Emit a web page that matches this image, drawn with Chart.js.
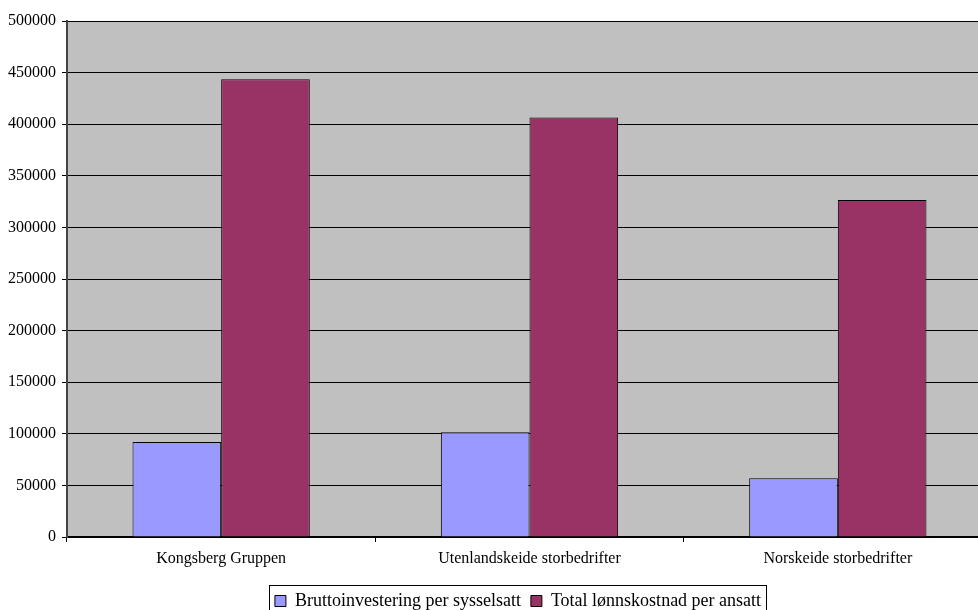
<!DOCTYPE html>
<html>
<head>
<meta charset="utf-8">
<script src="https://cdn.jsdelivr.net/npm/chart.js@4"></script>
<style>
  html, body { margin: 0; padding: 0; background: #fff; overflow: hidden; width: 978px; height: 610px; }
  #wrap { position: absolute; left: 0; top: 0; width: 1000px; height: 630px; }
</style>
</head>
<body>
<div id="wrap"><canvas id="chart" width="1000" height="630"></canvas></div>
<script>
const categories = ['Kongsberg Gruppen', 'Utenlandskeide storbedrifter', 'Norskeide storbedrifter']
const seriesNames = ['Bruttoinvestering per sysselsatt', 'Total lønnskostnad per ansatt']
const investering = [92000, 101500, 57000]
const lonnskostnad = [443500, 406500, 326500]
const yMin = 0
const yMax = 500000
const yStep = 50000

const FONT = 'Liberation Serif, Times New Roman, serif'
const LEGEND_SHIFT = 22

// grey plot background like the old Excel chart
const plotBg = {
    id: 'plotBg',
    beforeDraw(chart) {
        const { ctx, chartArea: a } = chart
        ctx.save()
        ctx.fillStyle = '#C0C0C0'
        ctx.fillRect(a.left, a.top, a.right - a.left, a.bottom - a.top)
        ctx.restore()
    }
}

// the plot runs past the window on the right, so centre the legend on the visible part
const legendShift = {
    id: 'legendShift',
    afterLayout(chart) {
        const lg = chart.legend
        if (!lg) return
        lg.left += LEGEND_SHIFT
        lg.right += LEGEND_SHIFT
        lg.legendHitBoxes.forEach(b => { b.left += LEGEND_SHIFT })
    }
}

// frame around the legend items
const legendFrame = {
    id: 'legendFrame',
    afterDraw(chart) {
        const boxes = chart.legend && chart.legend.legendHitBoxes
        if (!boxes || !boxes.length) return
        const left = Math.min(...boxes.map(b => b.left)) - 6
        const right = Math.max(...boxes.map(b => b.left + b.width)) + 5
        const top = Math.min(...boxes.map(b => b.top)) - 7
        const bottom = Math.max(...boxes.map(b => b.top + b.height)) + 8
        const ctx = chart.ctx
        ctx.save()
        ctx.strokeStyle = '#000'
        ctx.lineWidth = 1
        ctx.strokeRect(Math.round(left) + 0.5, Math.round(top) + 0.5, Math.round(right - left), Math.round(bottom - top))
        ctx.restore()
    }
}

new Chart(document.getElementById('chart').getContext('2d'), {
    type: 'bar',
    data: {
        labels: categories,
        datasets: [
            { label: seriesNames[0], data: investering, backgroundColor: '#9999FF', borderColor: '#000', borderWidth: 1 },
            { label: seriesNames[1], data: lonnskostnad, backgroundColor: '#993366', borderColor: '#000', borderWidth: 1 },
        ]
    },
    options: {
        responsive: false,
        animation: false,
        devicePixelRatio: 1,
        layout: { padding: { top: 21, left: 0, right: 8, bottom: 10 } },
        datasets: { bar: { barPercentage: 1, categoryPercentage: 0.575 } },
        scales: {
            x: {
                offset: true,
                grid: { offset: true, drawOnChartArea: false, drawTicks: true, tickLength: 5, color: '#000' },
                border: { color: '#000', width: 2 },
                ticks: { color: '#000', font: { family: FONT, size: 16 }, padding: 7, maxRotation: 0 },
                afterFit(axis) { axis.height = 45 }
            },
            y: {
                min: yMin, max: yMax,
                grid: { color: '#000', lineWidth: 1, drawTicks: true, tickLength: 5 },
                border: { color: '#444', width: 2 },
                ticks: { stepSize: yStep, color: '#000', font: { family: FONT, size: 16 }, padding: 6, callback: v => String(v) },
                afterFit(axis) { axis.width = 67 }
            }
        },
        plugins: {
            legend: {
                position: 'bottom',
                labels: { color: '#000', font: { family: FONT, size: 18 }, boxWidth: 11, boxHeight: 11, padding: 10 }
            },
            tooltip: { enabled: false }
        }
    },
    plugins: [plotBg, legendShift, legendFrame]
})
</script>
</body>
</html>
